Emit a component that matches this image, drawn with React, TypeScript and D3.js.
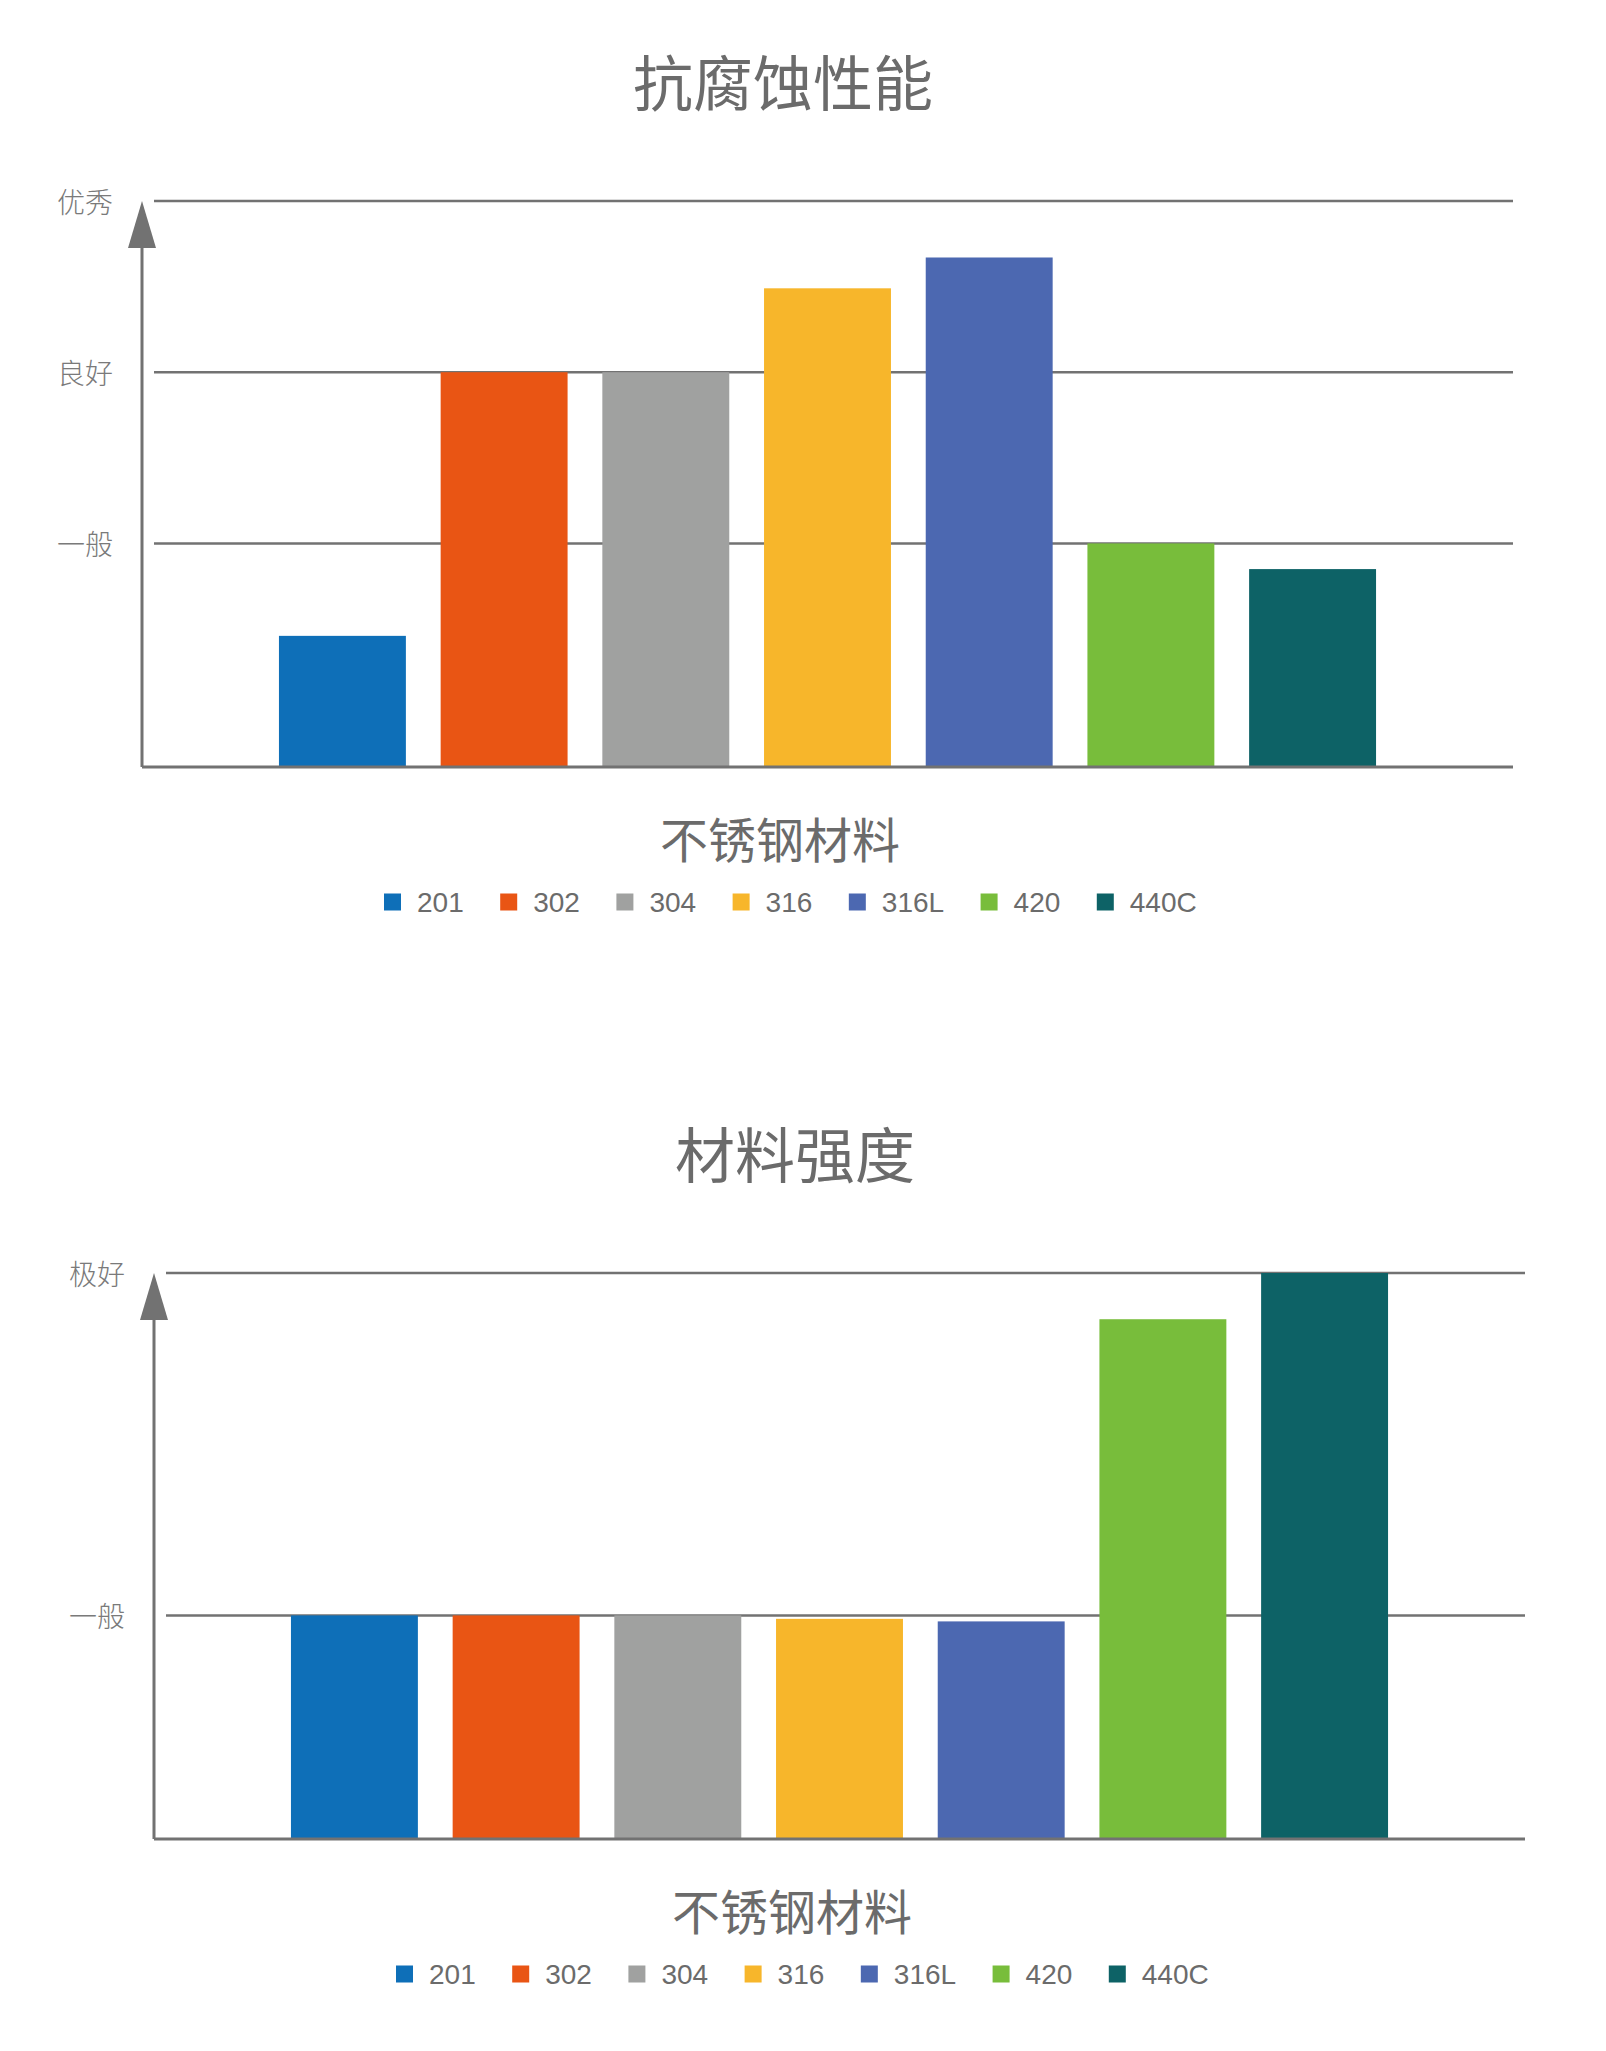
import { scaleBand, scaleLinear } from "d3";

const materials = ["201", "302", "304", "316", "316L", "420", "440C"];
const colors = ["#0e6fb8", "#e95514", "#a0a1a0", "#f7b62b", "#4c68b1", "#78bd3b", "#0d6266"];

// levels: 1 = 一般, 2 = 良好, 3 = 优秀 / 极好
const corrosionValues = [0.46, 2, 2, 2.49, 2.67, 1, 0.85];
const corrosionTicks = [1, 2, 3];
const corrosionTickLabels = ["一般", "良好", "优秀"];

const strengthValues = [1, 1, 1, 0.98, 0.965, 2.73, 3];
const strengthTicks = [1, 3];
const strengthTickLabels = ["一般", "极好"];

const width = 1606;
const height = 2051;
const axisX = 142;
const plotRight = 1513;
const plotTop = 201;
const plotBottom = 767;
const gray = "#727272";
const textGray = "#6b6b6b";

const legendFont = 28;
const charW = (c: string) => (c === "C" ? 0.722 : 0.556) * legendFont;
const textWidth = (s: string) => s.split("").reduce((a, c) => a + charW(c), 0);

type PanelProps = {
  title: string;
  values: number[];
  ticks: number[];
  tickLabels: string[];
  dx: number;
  dy: number;
};

const Panel = ({ title, values, ticks, tickLabels, dx, dy }: PanelProps) => {
  const x = scaleBand<string>()
    .domain(materials)
    .range([axisX, plotRight])
    .paddingInner(0.215)
    .paddingOuter(0.847);
  const y = scaleLinear().domain([-0.306, 3]).range([plotBottom, plotTop]);

  let lx = 384;
  const legendItems = materials.map((m, i) => {
    const item = { m, x: lx, color: colors[i] };
    lx += 17 + 16 + textWidth(m) + 36.5;
    return item;
  });

  return (
    <g transform={`translate(${dx},${dy})`}>
      <text
        x={783}
        y={79}
        textAnchor="middle"
        dominantBaseline="central"
        fontFamily="'Noto Sans CJK SC', sans-serif"
        fontSize={60}
        fill={textGray}
      >
        {title}
      </text>

      {ticks.map((t, i) => (
        <g key={t}>
          <line x1={154} x2={plotRight} y1={y(t)} y2={y(t)} stroke={gray} strokeWidth={2.5} />
          <text
            x={113}
            y={y(t)}
            textAnchor="end"
            dominantBaseline="central"
            fontFamily="'Noto Sans CJK SC', sans-serif"
            fontWeight={300}
            fontSize={28}
            fill="#7a7a7a"
          >
            {tickLabels[i]}
          </text>
        </g>
      ))}

      {values.map((v, i) => (
        <rect
          key={materials[i]}
          x={x(materials[i])}
          y={y(v)}
          width={x.bandwidth()}
          height={y(-0.306) - y(v)}
          fill={colors[i]}
        />
      ))}

      <line x1={axisX} x2={plotRight} y1={plotBottom} y2={plotBottom} stroke={gray} strokeWidth={3} />
      <line x1={axisX} x2={axisX} y1={plotBottom} y2={plotTop + 40} stroke={gray} strokeWidth={3} />
      <polygon
        points={`${axisX},${plotTop} ${axisX - 14},${plotTop + 47} ${axisX + 14},${plotTop + 47}`}
        fill={gray}
      />

      <text
        x={780}
        y={837}
        textAnchor="middle"
        dominantBaseline="central"
        fontFamily="'Noto Sans CJK SC', sans-serif"
        fontSize={48}
        fill={textGray}
      >
        不锈钢材料
      </text>

      {legendItems.map((d) => (
        <g key={d.m}>
          <rect x={d.x} y={902 - 8.5} width={17} height={17} fill={d.color} />
          <text
            x={d.x + 33}
            y={902}
            dominantBaseline="central"
            fontFamily="'Liberation Sans', Arial, sans-serif"
            fontSize={legendFont}
            fill={textGray}
          >
            {d.m}
          </text>
        </g>
      ))}
    </g>
  );
};

const App = () => {
  return (
    <svg
      width={width}
      height={height}
      style={{ position: "absolute", left: 0, top: 0, background: "#fff" }}
    >
      <Panel
        title="抗腐蚀性能"
        values={corrosionValues}
        ticks={corrosionTicks}
        tickLabels={corrosionTickLabels}
        dx={0}
        dy={0}
      />
      <Panel
        title="材料强度"
        values={strengthValues}
        ticks={strengthTicks}
        tickLabels={strengthTickLabels}
        dx={12}
        dy={1072}
      />
    </svg>
  );
};

export default App;
